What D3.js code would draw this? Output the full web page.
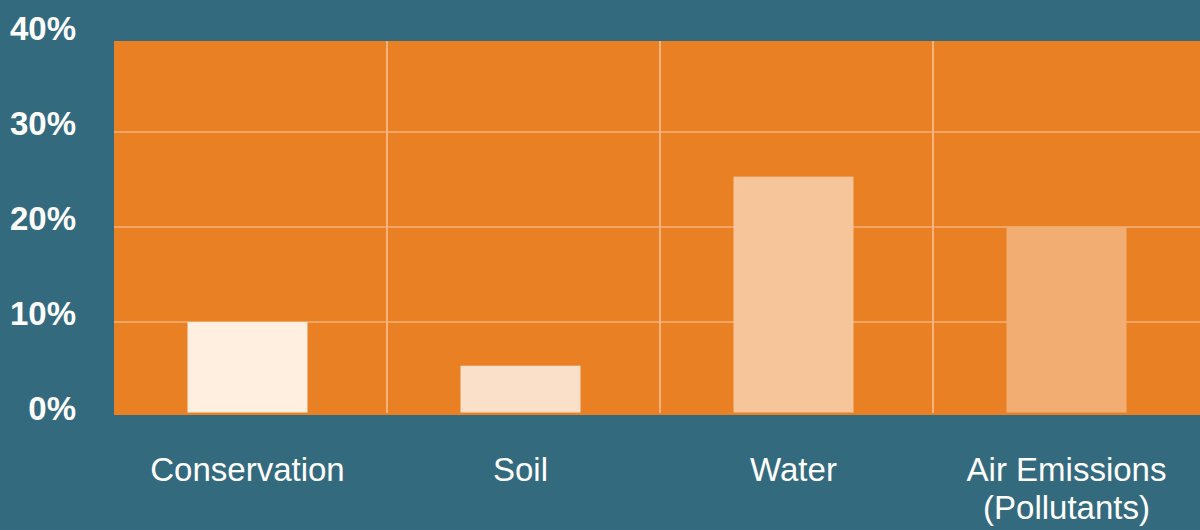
<!DOCTYPE html>
<html>
<head>
<meta charset="utf-8">
<script src="https://cdn.jsdelivr.net/npm/d3@7/dist/d3.min.js"></script>
<style>
  html, body { margin: 0; padding: 0; background: #346a7e; }
  svg { display: block; }
</style>
</head>
<body>
<script>
// chart data
const categories = ["Conservation", "Soil", "Water", "Air Emissions\n(Pollutants)"];
const values = [10, 5.4, 25.3, 20];
const barColors = ["#feefe0", "#fae0c8", "#f6c69a", "#f2ad72"];
const yTicks = [0, 10, 20, 30, 40];

const W = 1200, H = 530;
const plot = { left: 114, right: 1206, top: 41, bottom: 415 };

const svg = d3.select("body").append("svg")
  .attr("width", W)
  .attr("height", H);

svg.append("rect")
  .attr("width", W).attr("height", H)
  .attr("fill", "#346a7e");

// scales
const x = d3.scaleBand()
  .domain(categories)
  .range([plot.left, plot.right]);

const y = d3.scaleLinear()
  .domain([0, 40])
  .range([417, 37]);

// plot background
svg.append("rect")
  .attr("x", plot.left)
  .attr("y", plot.top)
  .attr("width", plot.right - plot.left)
  .attr("height", plot.bottom - plot.top)
  .attr("fill", "#e98024");

// horizontal grid
svg.append("g")
  .selectAll("line")
  .data(yTicks.filter(d => y(d) > plot.top && y(d) < plot.bottom))
  .join("line")
  .attr("x1", plot.left).attr("x2", plot.right)
  .attr("y1", d => y(d)).attr("y2", d => y(d))
  .attr("stroke", "#f6b27a")
  .attr("stroke-width", 1.5);

// vertical grid between categories
svg.append("g")
  .selectAll("line")
  .data(categories.slice(1))
  .join("line")
  .attr("x1", d => x(d)).attr("x2", d => x(d))
  .attr("y1", plot.top).attr("y2", plot.bottom - 2)
  .attr("stroke", "#f6b27a")
  .attr("stroke-width", 2);

// bars
const barW = 120;
const mid = d => x(d) + x.bandwidth() / 2 - 3;
svg.append("g")
  .selectAll("rect")
  .data(categories)
  .join("rect")
  .attr("x", d => mid(d) - barW / 2)
  .attr("y", (d, i) => y(values[i]))
  .attr("width", barW)
  .attr("height", (d, i) => y(0) - 4.5 - y(values[i]))
  .attr("fill", (d, i) => barColors[i]);

// y axis labels
svg.append("g")
  .selectAll("text")
  .data(yTicks)
  .join("text")
  .attr("x", 76)
  .attr("y", d => y(d) + 3)
  .attr("text-anchor", "end")
  .attr("fill", "#fff")
  .attr("font-family", "'Liberation Sans', Arial, sans-serif")
  .attr("font-weight", "bold")
  .attr("font-size", 33)
  .text(d => d + "%");

// category labels
const lab = svg.append("g")
  .selectAll("text")
  .data(categories)
  .join("text")
  .attr("x", d => mid(d))
  .attr("y", 481)
  .attr("text-anchor", "middle")
  .attr("fill", "#fff")
  .attr("font-family", "'Liberation Sans', Arial, sans-serif")
  .attr("font-size", 33);

lab.selectAll("tspan")
  .data(d => d.split("\n").map(t => ({ t, x: mid(d) })))
  .join("tspan")
  .attr("x", d => d.x)
  .attr("dy", (d, i) => i === 0 ? 0 : 38)
  .text(d => d.t);
</script>
</body>
</html>
